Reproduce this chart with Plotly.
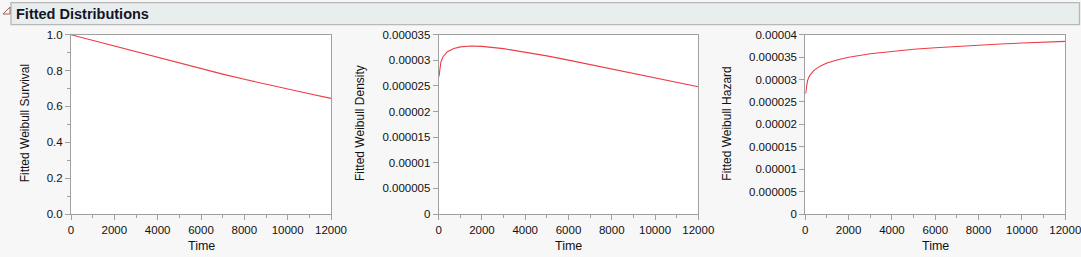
import plotly.graph_objects as go

# ---- data ----
time_surv = [0, 1000, 2000, 3000, 4000, 5000, 6000, 7000, 8000, 9000, 10000, 11000, 12000]
survival = [1.0, 0.9685, 0.9359, 0.9032, 0.8714, 0.8401, 0.8095, 0.7800, 0.7513, 0.7234, 0.6965, 0.6703, 0.6450]

time_curve = [15, 100, 200, 400, 700, 1000, 1500, 2000, 3000, 4000, 5000, 6000, 7000, 8000, 9000, 10000, 11000, 12000]
density = [2.685e-5, 2.966e-5, 3.070e-5, 3.167e-5, 3.232e-5, 3.262e-5, 3.278e-5, 3.272e-5, 3.228e-5,
           3.163e-5, 3.087e-5, 3.003e-5, 2.918e-5, 2.831e-5, 2.744e-5, 2.656e-5, 2.570e-5, 2.485e-5]
hazard = [2.685e-5, 2.974e-5, 3.088e-5, 3.206e-5, 3.304e-5, 3.368e-5, 3.443e-5, 3.496e-5, 3.574e-5,
          3.630e-5, 3.674e-5, 3.710e-5, 3.741e-5, 3.768e-5, 3.793e-5, 3.814e-5, 3.834e-5, 3.852e-5]

x_ticks = [0, 2000, 4000, 6000, 8000, 10000, 12000]
surv_ticks = [0.0, 0.2, 0.4, 0.6, 0.8, 1.0]
surv_ticktext = ["0.0", "0.2", "0.4", "0.6", "0.8", "1.0"]
dens_ticks = [0, 5e-6, 1e-5, 1.5e-5, 2e-5, 2.5e-5, 3e-5, 3.5e-5]
dens_ticktext = ["0", "0.000005", "0.00001", "0.000015", "0.00002", "0.000025", "0.00003", "0.000035"]
haz_ticks = [0, 5e-6, 1e-5, 1.5e-5, 2e-5, 2.5e-5, 3e-5, 3.5e-5, 4e-5]
haz_ticktext = ["0", "0.000005", "0.00001", "0.000015", "0.00002", "0.000025", "0.00003", "0.000035", "0.00004"]

y_titles = ["Fitted Weibull Survival", "Fitted Weibull Density", "Fitted Weibull Hazard"]
x_title = "Time"
header = "Fitted Distributions"

W, H = 1081, 257
RED = "#ee3b45"
AXC = "#a0a0a0"
FONT = "Liberation Sans"

fig = go.Figure()
fig.add_trace(go.Scatter(x=time_surv, y=survival, mode="lines", line=dict(color=RED, width=1.1),
                         xaxis="x", yaxis="y", showlegend=False))
fig.add_trace(go.Scatter(x=time_curve, y=density, mode="lines", line=dict(color=RED, width=1.1),
                         xaxis="x2", yaxis="y2", showlegend=False))
fig.add_trace(go.Scatter(x=time_curve, y=hazard, mode="lines", line=dict(color=RED, width=1.1),
                         xaxis="x3", yaxis="y3", showlegend=False))

px_dom = [(71, 331), (438.7, 698.3), (805.3, 1065.3)]
ydom = [1 - 214 / H, 1 - 34.7 / H]

def xax(dom, anchor):
    return dict(domain=[dom[0] / W, dom[1] / W], anchor=anchor, range=[0, 12000],
                tickvals=x_ticks, ticktext=[str(v) for v in x_ticks],
                ticks="outside", ticklen=5, tickcolor=AXC, showgrid=False, zeroline=False,
                showline=True, linecolor=AXC, linewidth=1, mirror=True,
                minor=dict(dtick=1000, tick0=0, ticks="outside", ticklen=3, tickcolor=AXC),
                ticklabeloverflow="allow",
                tickfont=dict(family=FONT, size=11.5, color="#111111"), automargin=False)

def yax(anchor, rng, tv, tt, minor=None):
    d = dict(domain=ydom, anchor=anchor, range=rng, tickvals=tv, ticktext=tt,
             ticks="outside", ticklen=5, tickcolor=AXC, showgrid=False, zeroline=False,
             showline=True, linecolor=AXC, linewidth=1, mirror=True,
             ticklabeloverflow="allow",
             tickfont=dict(family=FONT, size=11.5, color="#111111"), automargin=False)
    if minor:
        d["minor"] = dict(dtick=minor, tick0=0, ticks="outside", ticklen=3, tickcolor=AXC)
    return d

fig.update_layout(
    width=W, height=H, margin=dict(l=0, r=0, t=0, b=0),
    paper_bgcolor="#f7f7f7", plot_bgcolor="#ffffff",
    xaxis=xax(px_dom[0], "y"), xaxis2=xax(px_dom[1], "y2"), xaxis3=xax(px_dom[2], "y3"),
    yaxis=yax("x", [0, 1.0], surv_ticks, surv_ticktext, minor=0.1),
    yaxis2=yax("x2", [0, 3.5e-5], dens_ticks, dens_ticktext),
    yaxis3=yax("x3", [0, 4e-5], haz_ticks, haz_ticktext),
)

shapes = [
    dict(type="rect", xref="paper", yref="paper", x0=11 / W, x1=1079.5 / W, y0=1 - 24.7 / H, y1=1 - 2.7 / H,
         fillcolor="#e8eded", line=dict(color="#b8b8b8", width=1.3), layer="below"),
    dict(type="path", xref="paper", yref="paper",
         path=f"M {3/W} {1-14/H} L {10/W} {1-14/H} L {10/W} {1-7/H} Z",
         fillcolor="rgba(0,0,0,0)", line=dict(color="#a0605a", width=1)),
]
annotations = [
    dict(text=f"<b>{header}</b>", xref="paper", yref="paper", x=14 / W, y=1 - 14 / H,
         xanchor="left", yanchor="middle", showarrow=False,
         font=dict(family=FONT, size=14.5, color="#141428")),
]
ytitle_x = [25.3, 360, 726.7]
for i in range(3):
    annotations.append(dict(text=y_titles[i], xref="paper", yref="paper", x=ytitle_x[i] / W, y=1 - 123 / H,
                            xanchor="center", yanchor="middle", textangle=-90, showarrow=False,
                            font=dict(family=FONT, size=12, color="#111111")))
    cx = (px_dom[i][0] + px_dom[i][1]) / 2
    annotations.append(dict(text=x_title, xref="paper", yref="paper", x=cx / W, y=1 - 246 / H,
                            xanchor="center", yanchor="middle", showarrow=False,
                            font=dict(family=FONT, size=12.5, color="#111111")))
fig.update_layout(shapes=shapes, annotations=annotations)

fig.write_html("out.html")
